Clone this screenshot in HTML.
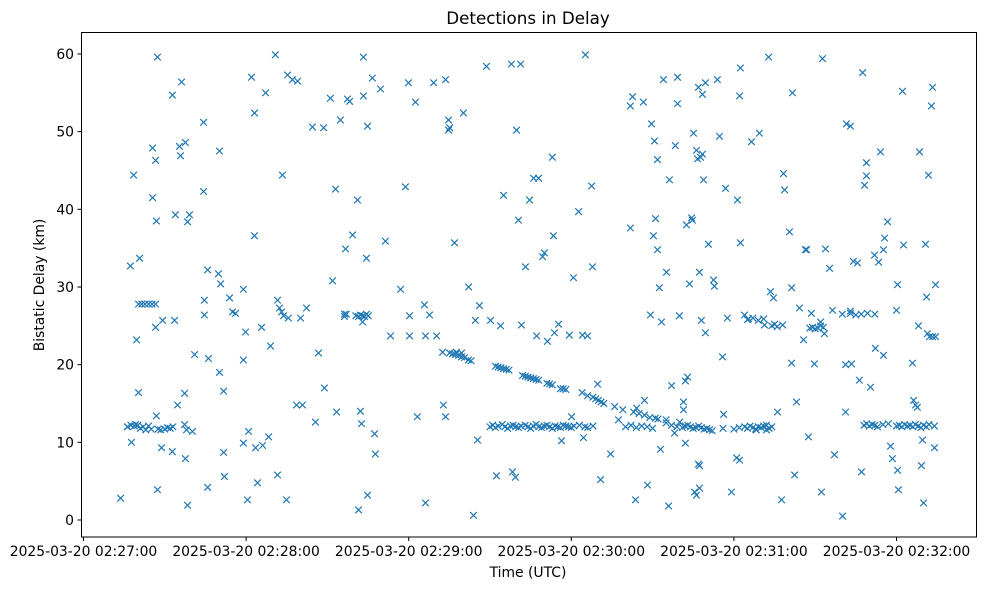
<!DOCTYPE html>
<html><head><meta charset="utf-8"><style>
body{margin:0;background:#fff;}
svg text{font-family:"DejaVu Sans","Liberation Sans",sans-serif;fill:#000;}
</style></head><body>
<svg id="chart" width="985" height="590">
<rect x="0" y="0" width="985" height="590" fill="#fff"/>
<text x="528" y="24" font-size="16.7" text-anchor="middle">Detections in Delay</text>
<g id="marks"></g>
<rect x="81.5" y="32.5" width="895" height="504.5" fill="none" stroke="#000" stroke-width="1"/>
<g id="xaxis"></g><g id="yaxis"></g>
<text x="528" y="577" font-size="13.9" text-anchor="middle">Time (UTC)</text>
<text transform="translate(44,285) rotate(-90)" font-size="13.9" text-anchor="middle">Bistatic Delay (km)</text>
</svg>
<script>
// seconds after 2025-03-20 02:27:00
const xTickSeconds=[0,60,120,180,240,300];
const xTickLabels=["2025-03-20 02:27:00","2025-03-20 02:28:00","2025-03-20 02:29:00","2025-03-20 02:30:00","2025-03-20 02:31:00","2025-03-20 02:32:00"];
const yTicks=[0,10,20,30,40,50,60];
const scatterLeft=[[13.7,2.8],[16.2,12],[17.7,10],[17.3,32.7],[18.5,44.4],[19.2,12.3],[19.6,23.2],[20.3,16.4],[20.7,33.7],[25.5,47.9],[26.6,46.3],[25.5,41.5],[26.9,38.5],[27.3,59.6],[26.6,24.8],[26.9,13.4],[27.3,3.9],[28.8,9.3],[29.2,25.7],[32.8,54.7],[36.2,56.4],[33.9,39.3],[34.7,14.8],[35.4,48.1],[35.8,46.9],[37.6,48.6],[38.4,38.4],[39.1,39.3],[33.6,25.7],[37.3,16.3],[37.3,12.3],[38,11.6],[37.6,7.9],[38.4,1.9],[40.2,11.4],[41,21.3],[32.8,8.8],
[44.3,51.2],[44.3,42.3],[44.6,28.3],[44.6,26.4],[45.8,32.2],[45.8,4.2],[46.1,20.8],[49.8,31.7],[50.2,47.5],[50.6,30.4],[50.2,19],[51.7,16.6],[51.7,8.7],[52,5.6],[53.9,28.6],[55,26.8],[56.1,26.6],[59,29.7],[59,9.9],[59,20.6],[59.8,24.2],[60.5,2.6],[60.9,11.4],[62,57],[63.1,52.4],[63.1,36.6],[63.5,9.3],[64.2,4.8],[65.7,24.8],[66.1,9.6],[67.2,55],[68.3,10.7],[69,22.4],[70.8,59.9],[71.6,28.3],[71.6,5.8],[72.3,27.3],[73.4,44.4],[73.1,26.8],[73.8,26.3],[74.9,2.6],[75.3,57.3],[75.6,26],[77.1,56.7],[79,56.5],[78.6,14.8],[80.8,14.8],[80.1,26],[82.3,27.3],[84.5,50.6],[85.6,12.6],[86.7,21.5],[88.6,50.5],[88.9,17],[91.1,54.3],[91.9,30.8],[93,42.6],[93.4,13.9],[94.8,51.5],[96.3,26.5],[96.7,34.9],[97.4,54.2],[98.2,53.9],[99.3,36.7],[101.1,41.2],[101.5,1.3],[102.2,14],[102.6,12.4],[103.3,59.6],[103.3,54.6],[104.4,33.7],[104.8,50.7],[104.8,3.2],[106.6,56.9],[107.4,11.1],[107.7,8.5],[109.6,55.5],[111.4,35.9],[113.3,23.7],[117,29.7],[118.8,42.9],[119.9,56.3],[120.3,26.3],[120.3,23.7],[122.5,53.8],[123.2,13.3],[126.2,2.2],[125.8,27.7],[126.2,23.7],[127.7,26.4],[129.2,56.3],[130.3,23.7],[132.5,21.6],[132.8,14.8],[133.6,13.3],[133.6,56.7],[134.7,51.5],[134.7,50.2],[135.1,50.5],[136.9,35.7],[137.6,21.6],[139.5,21.5],[140.2,52.4],[142.1,30],[143.9,0.6],[144.6,25.7],[145.4,10.3],[146.1,27.6],[148.7,58.4],[150.2,25.7],[152.4,5.7],[153.9,25],[155,41.8],[157.9,58.7],[158.3,6.2],[159.4,5.5],[161.3,58.7],[161.6,25.1],[159.8,50.2],[160.5,38.6],[163.1,32.6],[164.6,41.2],[166.1,44],[167.2,23.7],[167.9,44],[169.4,33.9],[170.1,34.4],[171.2,23],[173,46.7],[173.4,36.6],[173.8,24.1],[175.3,25.2],[176.4,10.2],[179.3,23.8],[180.1,13.3],[180.8,31.2],[182.7,39.7],[184.1,23.8],[184.5,10.6],[185.2,59.9],[186,23.7],[187.5,43],[187.8,32.6],[189.7,17.5],[190.8,5.2],[194.5,8.5],[197.4,12.9],[201.8,53.3],[201.8,37.6],[202.6,54.5],[203.7,2.6],[204.1,14.4],[206.6,53.8],[207,15.4],[208.1,4.5],[209.2,26.4],[209.6,51],[211.1,38.8],[210.3,36.6],[210.7,48.8],[211.8,34.8],[211.8,46.4],[212.5,29.9],[212.9,9.1],[213.3,25.5],[214,56.7],[215.1,31.9],[215.9,1.8],[216.2,43.8],[217,17.3],[218.4,48.2],[219.2,57],[218.1,11.2],[219.2,53.6],[219.9,26.3]];
const scatterRight=[[221.4,15.2],[221.4,14.2],[222.1,9.9],[222.1,17.9],[222.9,18.4],[222.5,38],[223.6,30.4],[224.4,38.9],[224.7,38.6],[225.1,49.8],[226.2,47.6],[226.6,46.5],[227.3,7],[228.4,47.1],[227.7,46.7],[228.8,43.8],[229.5,56.3],[226.9,7.2],[225.5,3.6],[226.2,3.2],[227.3,4.1],[226.9,55.7],[227.3,31.9],[228,25.7],[228.4,54.8],[229.5,24.1],[230.6,35.5],[232.5,30.9],[232.8,30.1],[233.9,56.7],[234.7,49.4],[235.8,21],[236.2,13.6],[236.9,42.7],[237.6,26],[239.1,3.6],[241.3,41.2],[241,8],[242.1,54.6],[242.4,35.7],[242.4,58.2],[242.1,7.7],[243.9,26.4],[245.4,25.9],[246.5,48.7],[248.3,11.6],[249.4,49.8],[251.3,25.1],[252,11.6],[252.8,59.6],[253.5,29.4],[254.6,28.6],[256.1,13.9],[257.6,2.6],[258.3,44.6],[258.7,42.5],[260.5,37.1],[261.6,55],[261.3,29.9],[261.3,20.2],[262.4,5.8],[263.1,15.2],[264.2,27.3],[265.7,23.2],[266.4,34.8],[266.8,34.8],[267.5,10.7],[268.6,26.6],[269.7,20.1],[272,25.5],[272.3,3.6],[272.7,59.4],[273.4,24],[273.8,34.9],[275.3,32.4],[276.4,27],[277.1,8.4],[280.1,0.5],[281.2,20],[281.5,51],[283,50.7],[281.2,13.9],[283,26.9],[283.4,20.1],[284.1,33.3],[285.6,33.1],[286.3,18],[287.1,6.2],[287.5,57.6],[288.2,43.1],[288.9,46],[288.9,44.3],[289.3,26.6],[290.4,17.1],[291.9,34.1],[292.2,22.1],[293.4,33.2],[294.1,47.4],[295.2,21.2],[295.2,34.8],[295.6,36.3],[296.7,38.4],[297.8,9.5],[298.5,7.9],[300,27],[300.4,6.4],[300.4,30.3],[300.7,3.9],[302.2,55.2],[302.6,35.4],[305.9,20.2],[306.3,15.4],[307,14.8],[307.7,14.5],[308.1,25],[308.5,47.4],[309.2,7],[309.6,10.3],[310,2.2],[310.7,35.5],[311.1,28.7],[311.8,44.4],[312.9,53.3],[313.3,55.7],[314,9.3],[314.4,30.3],[311.4,24],[312.2,23.6],[313.3,23.6],[314.4,23.6]];
const trackBands=[[16.2,12],[17.5,12.2],[18.8,12.1],[20,12.2],[21,11.8],[22,12],[23,11.6],[24,12.1],[25,11.7],[27.5,11.7],[28.5,11.6],[30,11.7],[31,11.9],[32,11.8],[33,12],
[20.3,27.8],[21.5,27.8],[22.7,27.8],[24,27.8],[25.3,27.8],[26.6,27.8],
[96.3,26.2],[97,26.5],[100.5,26.3],[101.5,26.2],[102.2,26.4],[103,26.3],[103.7,26.2],[104.4,26.5],[105.1,26.3],[103,25.5],
[135.1,21.5],[136.2,21.4],[137.3,21.3],[138.4,21.2],[139.5,21],[140.6,20.9],[142,20.6],[143,20.5],[152,19.8],[153,19.7],[154,19.6],[155,19.5],[156,19.4],[157,19.3],[162,18.6],[163,18.5],[164,18.4],[165,18.3],[166,18.2],[167,18.1],[168,18],[171,17.6],[172,17.5],[173,17.4],[176,16.9],[177,16.9],[178,16.8],[184,16.4],[186,16],[188,15.8],[189,15.6],[190,15.4],[191,15.2],[192,15],[196,14.6],[199,14.2],[203,13.9],[205,13.7],[207,13.5],[209,13.2],[211,13.1],[212,13],[215,12.9],[220,12.6],
[150,12],[151,12.2],[152,11.9],[153,12.1],[154.5,12.3],[155.5,12],[156.5,11.8],[157.5,12.1],[158.5,12.2],[159.5,12],[160.5,11.9],[161.5,12.1],[163,12.2],[164,12],[165,11.8],[166,12.1],[167,12.3],[168,12],[169,11.9],[170,12.1],[171,12.2],[172,12],[173,11.8],[174,12.1],[175,12],[176,11.9],[177,12.2],[178,12.1],[179,12],[180,11.9],[181,12.1],[183,12.2],[185,12],[186,11.9],[188,12.1],[200,12],[202,12.2],[204,11.9],[206,12.1],[208,12],[210,11.8],
[215,12.5],[217,12.2],[219,12],[221,11.9],[222,12.1],[223,12.2],[224,12],[225,11.8],[226,11.9],[227,12.1],[228,11.9],[229,11.7],[230,11.8],[231,11.6],[232,11.5],[236,11.8],[240,11.7],[242,11.9],[244,12],[245,11.8],[246,12.1],[247,11.9],[248,11.7],[249,12],[250,11.9],[251,12.1],[252,12.2],[253,11.8],[254,12],
[254,25],[255,25.2],[256,24.9],[258,25.1],[268,24.7],[269,24.8],[270,24.6],[271,24.7],[272,25],[273,24.8],[280,26.5],[283,26.6],[285,26.4],[287,26.5],[292,26.5],[245,25.8],[247,26],[249,25.7],[251,25.9],
[288,12.2],[289,12.4],[290,12.1],[291,12.3],[292,12.2],[293,12],[295,12.3],[297,12.4],[300,12.1],[301,12.2],[302,12],[303,12.3],[304,12.1],[305,12.2],[306,12],[307,12.3],[308,12.1],[309,11.9],[310,12.2],[311,12],[312,12.3],[314,12.1]];
const NS="http://www.w3.org/2000/svg";
const X0=83.5, PXS=162.6/60, Y0=520, PXV=7.767;
function xs(t){return X0+t*PXS;}
function ys(v){return Y0-v*PXV;}
const marks=document.getElementById('marks');
const allPoints=scatterLeft.concat(scatterRight, trackBands);
for(const pt of allPoints){
  const cx=xs(pt[0]), cy=ys(pt[1]), r=3.3;
  const p=document.createElementNS(NS,'path');
  p.setAttribute('d',`M${cx-r},${cy-r}L${cx+r},${cy+r}M${cx-r},${cy+r}L${cx+r},${cy-r}`);
  p.setAttribute('stroke','#1f77b4');p.setAttribute('stroke-width','1.2');p.setAttribute('fill','none');
  
  
  marks.appendChild(p);
}
const xa=document.getElementById('xaxis');
xTickSeconds.forEach((s,i)=>{
  const x=xs(s);
  const l=document.createElementNS(NS,'line');
  l.setAttribute('x1',x);l.setAttribute('x2',x);l.setAttribute('y1',537);l.setAttribute('y2',541);l.setAttribute('stroke','#000');
  
  
  xa.appendChild(l);
  const t=document.createElementNS(NS,'text');
  t.setAttribute('x',x);t.setAttribute('y',556);t.setAttribute('font-size','13.9');t.setAttribute('text-anchor','middle');
  t.textContent=xTickLabels[i];
  
  
  xa.appendChild(t);
});
const ya=document.getElementById('yaxis');
yTicks.forEach(v=>{
  const y=ys(v);
  const l=document.createElementNS(NS,'line');
  l.setAttribute('x1',77.5);l.setAttribute('x2',81.5);l.setAttribute('y1',y);l.setAttribute('y2',y);l.setAttribute('stroke','#000');
  
  
  ya.appendChild(l);
  const t=document.createElementNS(NS,'text');
  t.setAttribute('x',74);t.setAttribute('y',y+5);t.setAttribute('font-size','13.9');t.setAttribute('text-anchor','end');
  t.textContent=v;
  
  
  ya.appendChild(t);
});
</script>
</body></html>
